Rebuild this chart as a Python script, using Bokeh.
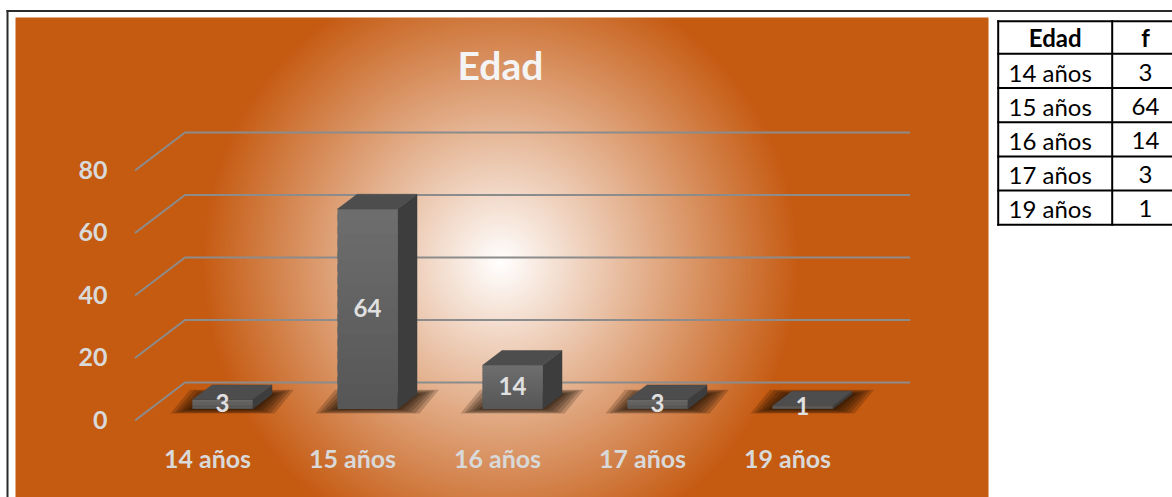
import numpy as np
from bokeh.plotting import figure
from bokeh.models import Range1d
from bokeh.core.properties import value
from bokeh.embed import file_html
from bokeh.resources import INLINE

# ---------------- data ----------------
categories = ["14 años", "15 años", "16 años", "17 años", "19 años"]
counts = [3, 64, 14, 3, 1]
y_ticks = [0, 20, 40, 60, 80]
chart_title = "Edad"
table_header = ["Edad", "f"]

# ---------------- geometry / style ----------------
W, H = 1172, 497
PAGE0 = 0
CAT0_PX, CAT_STEP = 207.0, 145.0     # page px of first category, px per category
BASE_PY, UNIT_PX = 420.0, 3.125       # page py of value 0 (front), px per unit
DXZ = 50.0 / CAT_STEP                 # depth offset (x) for z=1
DYZ = 38.0 / UNIT_PX                  # depth offset (y) for z=1
HW = 30.0 / CAT_STEP                  # half bar width
Z0, Z1 = 0.30, 0.69                   # bar depth extent
BASE_FIX = 0.41                       # baseline correction (em)

ORANGE = (197, 90, 17)
FONT = value("Lato")


def px2x(px):
    return (px - CAT0_PX) / CAT_STEP


def py2y(py):
    return (BASE_PY - py) / UNIT_PX


def proj(x, y, z):
    return x + z * DXZ, y + z * DYZ


def hexc(c):
    return "#%02x%02x%02x" % tuple(int(round(v)) for v in c)


def mix(c1, c2, t):
    return tuple(a + (b - a) * t for a, b in zip(c1, c2))


def lift(fs):
    return BASE_FIX * fs / UNIT_PX


p = figure(width=W, height=H,
           x_range=Range1d(px2x(PAGE0), px2x(PAGE0 + W)),
           y_range=Range1d(py2y(PAGE0 + H), py2y(PAGE0)),
           output_backend="svg", toolbar_location=None, min_border=0,
           x_axis_location=None, y_axis_location=None,
           outline_line_color=None, background_fill_color="white",
           border_fill_color="white")
p.grid.visible = False

# orange chart area with radial gradient (background image)
GX0, GX1, GY0, GY1 = 15, 988, 17, 497
gw, gh = GX1 - GX0, GY1 - GY0
R = 300.0
xs = np.arange(gw) + GX0 + 0.5
ys = GY1 - 0.5 - np.arange(gh)          # row 0 = bottom
XX, YY = np.meshgrid(xs, ys)
tt = np.clip(np.sqrt((XX - 500.0) ** 2 + (YY - 262.0) ** 2) / R, 0, 1)
img = np.empty((gh, gw), dtype=np.uint32)
view = img.view(dtype=np.uint8).reshape((gh, gw, 4))
for ch, c in enumerate(ORANGE):
    view[:, :, ch] = np.round(255 + (c - 255) * tt).astype(np.uint8)
view[:, :, 3] = 255
p.image_rgba(image=[img], x=px2x(GX0), y=py2y(GY1),
             dw=gw / CAT_STEP, dh=gh / UNIT_PX)

# outer border
p.multi_line(xs=[[px2x(6), px2x(W + 5)], [px2x(7), px2x(7)]],
             ys=[[py2y(10.5), py2y(10.5)], [py2y(9.5), py2y(H + 5)]],
             line_color="#2b2b2b", line_width=2)

# gridlines (left wall diagonals + back wall)
n = len(categories)
gx, gy = [], []
for t in y_ticks:
    a = proj(-0.5, t, 0)
    b = proj(-0.5, t, 1)
    c = proj(n - 0.5, t, 1)
    gx.append([a[0], b[0], c[0]])
    gy.append([a[1], b[1], c[1]])
p.multi_line(xs=gx, ys=gy, line_color="#8c8c8c", line_width=2)

# shadows under bars
sh_x, sh_y = [], []
layers = [(22, 4.5), (18, 4.0), (14, 3.0), (10, 2.0), (6, 1.0), (3, 0.5)]
for i, v in enumerate(categories):
    for eh, ev in layers:
        ex, ey = eh / CAT_STEP, ev / UNIT_PX
        c1 = proj(i - HW - ex, -ey, Z0)
        c2 = proj(i + HW + ex, -ey, Z0)
        c3 = proj(i + HW + ex, ey, Z1)
        c4 = proj(i - HW - ex, ey, Z1)
        sh_x.append([c1[0], c2[0], c3[0], c4[0]])
        sh_y.append([c1[1], c2[1], c3[1], c4[1]])
p.patches(xs=sh_x, ys=sh_y, fill_color="#140800", fill_alpha=0.2, line_color=None)

# 3D bars
fx, fy, fc = [], [], []
sx, sy = [], []
tx, ty = [], []
NS = 16
for i, v in enumerate(counts):
    for k in range(NS):
        y0 = v * k / NS
        y1 = v * min(k + 1.6, NS) / NS
        pts = [proj(i - HW, y0, Z0), proj(i + HW, y0, Z0),
               proj(i + HW, y1, Z0), proj(i - HW, y1, Z0)]
        fx.append([q[0] for q in pts])
        fy.append([q[1] for q in pts])
        fc.append(hexc(mix((86, 86, 86), (110, 110, 110), (k + 0.5) / NS)))
    pts = [proj(i + HW, 0, Z0), proj(i + HW, 0, Z1),
           proj(i + HW, v, Z1), proj(i + HW, v, Z0)]
    sx.append([q[0] for q in pts])
    sy.append([q[1] for q in pts])
    pts = [proj(i - HW, v, Z0), proj(i + HW, v, Z0),
           proj(i + HW, v, Z1), proj(i - HW, v, Z1)]
    tx.append([q[0] for q in pts])
    ty.append([q[1] for q in pts])
p.patches(xs=sx, ys=sy, fill_color="#3d3d3d", line_color="#3d3d3d", line_width=0.5)
p.patches(xs=fx, ys=fy, fill_color=fc, line_color=None)
p.patches(xs=tx, ys=ty, fill_color="#4d4d4d", line_color="#4d4d4d", line_width=0.5)

# data labels
lab_x = [proj(i, 0, Z0)[0] for i in range(n)]
lab_y = [v / 2 + Z0 * DYZ - 8.5 / UNIT_PX + lift(24) for v in counts]
p.text(x=lab_x, y=lab_y, text=[str(v) for v in counts], text_font=FONT,
       text_font_style="bold", text_font_size="24px", text_color="#e0e0e0",
       text_align="center", text_baseline="alphabetic")

# value axis labels
p.text(x=[px2x(107)] * len(y_ticks), y=[t - 9.5 / UNIT_PX + lift(25) for t in y_ticks],
       text=[str(t) for t in y_ticks], text_font=FONT, text_font_style="bold",
       text_font_size="25px", text_color="#d9d9d9", text_align="right",
       text_baseline="alphabetic")

# category labels
p.text(x=list(range(n)), y=[py2y(468) + lift(25)] * n, text=categories, text_font=FONT,
       text_font_style="bold", text_font_size="25px", text_color="#d9d9d9",
       text_align="center", text_baseline="alphabetic")

# title
p.text(x=[px2x(500)], y=[py2y(80) + lift(39)], text=[chart_title], text_font=FONT,
       text_font_style="bold", text_font_size="39px", text_color="#f4f4f4",
       text_align="center", text_baseline="alphabetic")

# ---------------- table ----------------
T_TOP, T_HEAD, T_ROW = 20.7, 32.6, 34.2
T_LEFT, T_MID, T_RIGHT = 997.7, 1111.7, W + 5
row_lines = [T_TOP, T_TOP + T_HEAD] + [T_TOP + T_HEAD + T_ROW * (k + 1) for k in range(n)]
lx, ly = [], []
for yy in row_lines:
    lx.append([px2x(T_LEFT - 1), px2x(T_RIGHT)])
    ly.append([py2y(yy), py2y(yy)])
for xx in (T_LEFT, T_MID):
    lx.append([px2x(xx), px2x(xx)])
    ly.append([py2y(row_lines[0] - 1), py2y(row_lines[-1] + 1)])
p.multi_line(xs=lx, ys=ly, line_color="black", line_width=2)

c1x = (T_LEFT + T_MID) / 2
c2x = 1145
p.text(x=[px2x(c1x), px2x(c2x)], y=[py2y(46.5) + lift(24)] * 2, text=table_header,
       text_font=FONT, text_font_style="bold", text_font_size="24px",
       text_color="black", text_align="center", text_baseline="alphabetic")
body_y = [py2y(81.5 + T_ROW * k) + lift(24) for k in range(n)]
p.text(x=[px2x(1008)] * n, y=body_y, text=categories, text_font=FONT,
       text_font_size="24px", text_color="black", text_align="left",
       text_baseline="alphabetic")
p.text(x=[px2x(c2x)] * n, y=body_y, text=[str(v) for v in counts], text_font=FONT,
       text_font_size="24px", text_color="black", text_align="center",
       text_baseline="alphabetic")

open("out.html", "w").write(file_html(p, INLINE))
